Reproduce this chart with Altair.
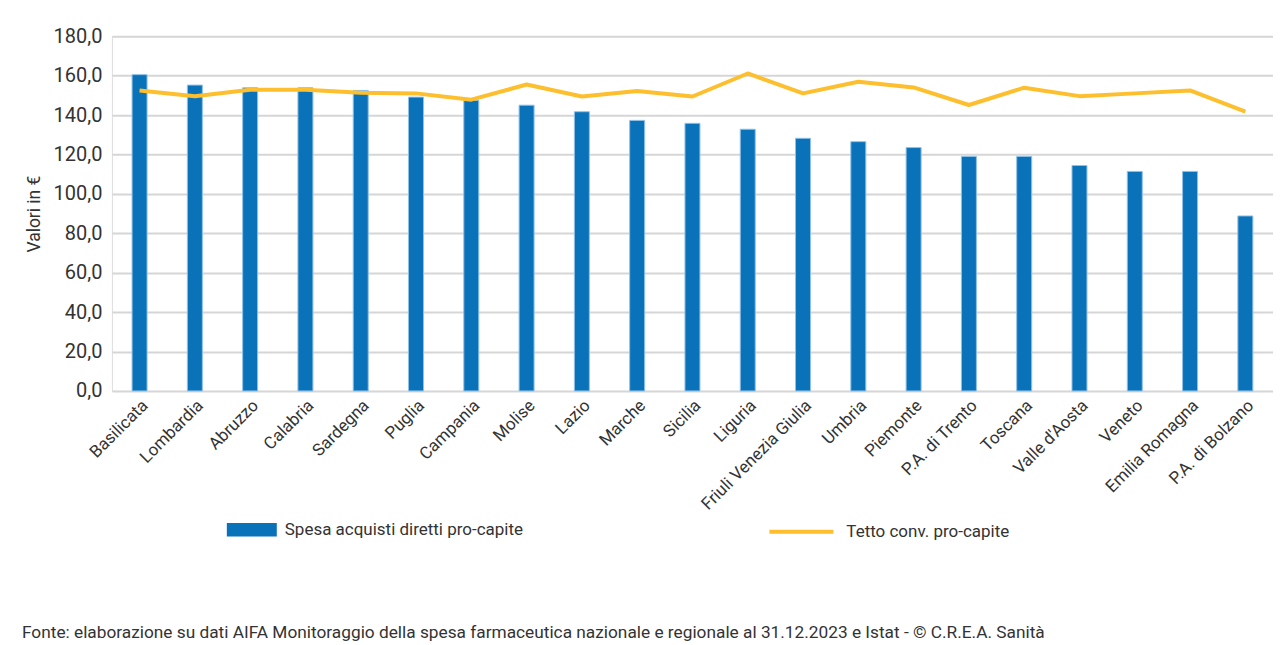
import altair as alt
import pandas as pd

regioni = ["Basilicata", "Lombardia", "Abruzzo", "Calabria", "Sardegna", "Puglia",
           "Campania", "Molise", "Lazio", "Marche", "Sicilia", "Liguria",
           "Friuli Venezia Giulia", "Umbria", "Piemonte", "P.A. di Trento", "Toscana",
           "Valle d'Aosta", "Veneto", "Emilia Romagna", "P.A. di Bolzano"]
spesa = [160.5, 155.2, 153.8, 153.8, 152.5, 149.1, 147.5, 145.0, 141.7, 137.3, 135.8,
         132.8, 128.2, 126.5, 123.5, 119.0, 119.0, 114.4, 111.4, 111.4, 88.8]
tetto = [152.5, 149.5, 152.8, 152.8, 151.3, 151.0, 147.8, 155.5, 149.4, 152.2, 149.4,
         161.1, 151.0, 156.9, 154.0, 145.1, 153.9, 149.6, 151.0, 152.5, 141.7]
y_ticks = [0, 20, 40, 60, 80, 100, 120, 140, 160, 180]

serie_bar = "Spesa acquisti diretti pro-capite"
serie_line = "Tetto conv. pro-capite"
fonte = ("Fonte: elaborazione su dati AIFA Monitoraggio della spesa farmaceutica nazionale "
         "e regionale al 31.12.2023 e Istat - © C.R.E.A. Sanità")

FONT = "Roboto"
TXT = "#333333"
BLUE = "#0a72b9"
YELLOW = "#fdbf2d"

df = pd.DataFrame({"Regione": regioni, "Spesa": spesa, "Tetto": tetto})

x = alt.X("Regione:N", sort=regioni, title=None,
          axis=alt.Axis(labelAngle=-45, labelFont=FONT, labelFontSize=17, labelColor=TXT,
                        ticks=False, domain=False, grid=False, labelPadding=6,
                        labelLimit=300))
y_axis = alt.Axis(values=y_ticks, grid=True, gridColor="#d6d6d6", gridWidth=2,
                  domain=False, ticks=False, labelFont=FONT, labelFontSize=20,
                  labelColor=TXT, labelPadding=10, labelOverlap=False,
                  labelExpr="replace(format(datum.value, '.1f'), '.', ',')",
                  title="Valori in €", titleFont=FONT, titleFontSize=17.5,
                  titleFontWeight="normal", titleColor=TXT, titlePadding=10)
y_scale = alt.Scale(domain=[0, 180], nice=False)

base = alt.Chart(df)

bars = base.transform_calculate(serie=f"'{serie_bar}'").mark_bar(
    size=15, stroke="#8fc1e8", strokeWidth=1
).encode(
    x=x,
    y=alt.Y("Spesa:Q", scale=y_scale, axis=y_axis),
    fill=alt.Fill("serie:N", scale=alt.Scale(domain=[serie_bar], range=[BLUE]),
                  legend=alt.Legend(title=None, orient="none", legendX=115, legendY=469,
                                    symbolType="M-1,-0.27H1V0.27H-1Z", symbolSize=2500,
                                    symbolStrokeWidth=0, labelFont=FONT, labelFontSize=17,
                                    labelColor=TXT, labelOffset=8, padding=0,
                                    labelLimit=600)),
)

line = base.transform_calculate(serie=f"'{serie_line}'").mark_line(
    strokeWidth=4, strokeJoin="round"
).encode(
    x=x,
    y=alt.Y("Tetto:Q", scale=y_scale, axis=y_axis),
    stroke=alt.Stroke("serie:N", scale=alt.Scale(domain=[serie_line], range=[YELLOW]),
                      legend=alt.Legend(title=None, orient="none", legendX=656, legendY=462,
                                        symbolType="stroke", symbolSize=4096,
                                        symbolStrokeWidth=4, labelFont=FONT,
                                        labelFontSize=17, labelColor=TXT, labelOffset=11,
                                        padding=0, labelLimit=600)),
)

chart = alt.layer(bars, line).resolve_scale(fill="independent", stroke="independent").properties(
    width=1162, height=355,
    autosize=alt.AutoSizeParams(type="none"),
    padding={"left": 104, "top": 28, "right": 0, "bottom": 250},
    title=alt.TitleParams(fonte, orient="bottom", anchor="start", frame="group",
                          font=FONT, fontSize=17.3, fontWeight="normal", color=TXT,
                          dx=-90, offset=84),
).configure_view(stroke=None).configure(background="white")

chart.save("out.html", embed_options={"renderer": "svg", "actions": False})
